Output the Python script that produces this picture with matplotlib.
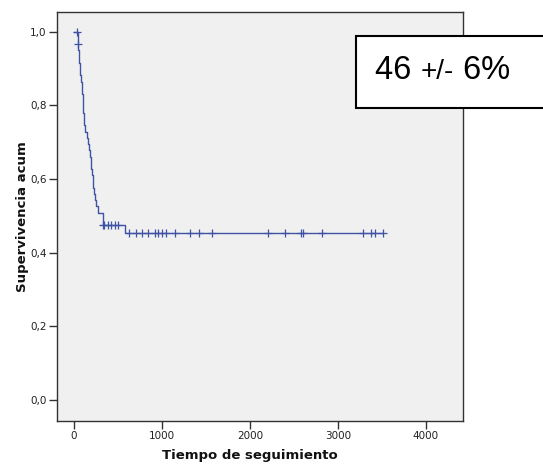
import numpy as np
import matplotlib.pyplot as plt
from matplotlib.patches import Rectangle
from matplotlib.text import Annotation
from matplotlib.ticker import FuncFormatter

# data ---------------------------------------------
# event times (deaths) and censored times, in days
event_times = [40, 40,
               45, 52, 58, 64, 72, 80, 88, 96,
               100, 103, 106, 110, 114,
               130, 150, 160, 172,
               180, 188, 196, 204, 212, 220, 227,
               238, 247, 276, 333, 333,
               583]
censor_times = [38, 41,
                335, 341, 386, 424, 462, 500,
                627, 700, 770, 845, 920, 960, 1000, 1040, 1150, 1320, 1420, 1570,
                2200, 2400, 2580, 2600, 2815, 3290, 3380, 3420, 3510]
x_ticks = [0, 1000, 2000, 3000, 4000]
y_ticks = [0.0, 0.2, 0.4, 0.6, 0.8, 1.0]
label_text = ["46 ", "+/-", " 6%"]

# Kaplan-Meier estimate ------------------------------
def Kaplan_Meier(events, censored):
    # returns step x/y and survival at each censored time
    times = np.array(events + censored, dtype=float)
    dead = np.array([1]*len(events) + [0]*len(censored))
    n = len(times)
    S = 1.0
    xs, ys = [0.0], [1.0]
    surv_at = {}
    for t in np.unique(times):
        d = np.sum(dead[times == t])
        c = np.sum(times == t) - d
        if d > 0:
            S *= (1 - d/n)
            xs.append(t)
            ys.append(S)
        surv_at[t] = S
        n -= d + c
    xs.append(times.max())
    ys.append(S)
    cs = [surv_at[float(t)] for t in censored]
    return np.array(xs), np.array(ys), np.array(cs)

km_x, km_y, cens_y = Kaplan_Meier(event_times, censor_times)

# plot ------------------------------------------------
line_col = '#3f52a3'
fig = plt.figure(figsize=(5.43, 4.65), dpi=100)
ax = fig.add_axes([0.105, 0.0953, 0.747, 0.879])
ax.set_facecolor('#f0f0f0')

ax.step(km_x, km_y, where='post', color=line_col, lw=1.0)
ax.plot(censor_times, cens_y, '+', color=line_col, markersize=5.5, mew=0.9)

ax.set_xlim(-193, 4417)
ax.set_ylim(-0.056, 1.054)
ax.set_xticks(x_ticks)
ax.set_yticks(y_ticks)
ax.yaxis.set_major_formatter(FuncFormatter(lambda v, p: f"{v:.1f}".replace('.', ',')))
ax.tick_params(direction='out', length=5.5, width=1, color='#333333',
               labelsize=7.5, labelcolor='#222222', pad=2)
ax.tick_params(top=False, right=False)
for s in ax.spines.values():
    s.set_color('#333333')
    s.set_linewidth(1.0)

ax.set_xlabel('Tiempo de seguimiento', fontsize=9.5, fontweight='bold', color='#111111')
ax.set_ylabel('Supervivencia acum', fontsize=9.5, fontweight='bold', color='#111111')
ax.xaxis.set_label_coords(0.4757, -0.069)
ax.yaxis.set_label_coords(-0.068, 0.5)

# annotation box, runs past the right edge
box = Rectangle((355.7/543, (465-108)/465), 0.5, 72/465, transform=fig.transFigure,
                facecolor='white', edgecolor='black', lw=1.5, zorder=5)
fig.add_artist(box)
base_y = (465-79)/465
t1 = fig.text(375/543, base_y, label_text[0], fontsize=23.5, family='Liberation Sans',
              va='baseline', ha='left', zorder=6)
t2 = Annotation(label_text[1], xy=(1, base_y), xycoords=(t1, 'figure fraction'),
                fontsize=20, family='Liberation Sans', va='baseline', ha='left',
                annotation_clip=False)
t2.set_zorder(6)
fig.add_artist(t2)
t3 = Annotation(label_text[2], xy=(1, base_y), xycoords=(t2, 'figure fraction'),
                fontsize=23.5, family='Liberation Sans', va='baseline', ha='left',
                annotation_clip=False)
t3.set_zorder(6)
fig.add_artist(t3)

fig.savefig('out.png', dpi=100)
